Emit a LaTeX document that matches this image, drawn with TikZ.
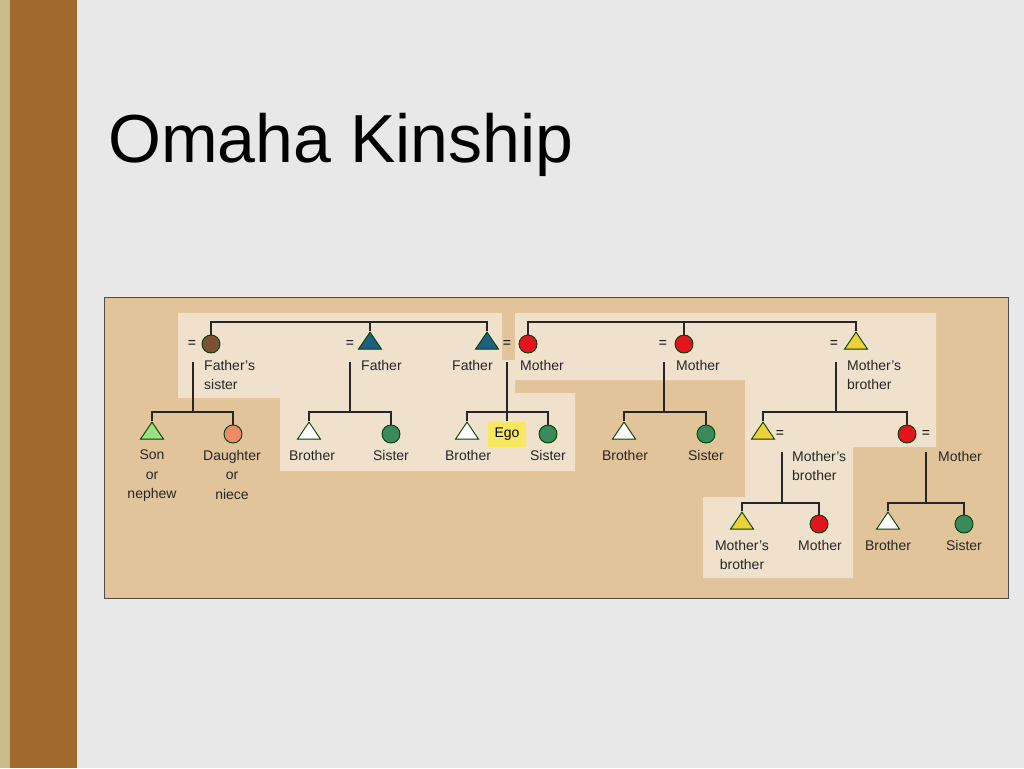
\documentclass[tikz,border=0pt]{standalone}
\usepackage{fontspec}
\setmainfont{Liberation Sans}
\usetikzlibrary{shapes.geometric}
\begin{document}
\begin{tikzpicture}[x=1pt,y=-1pt,
  lbl/.style={font=\fontsize{14}{19.5}\selectfont,text=black!85,inner sep=0pt,align=center},
  lbll/.style={lbl,align=left,anchor=north west},
  tri/.style={draw=black!75!green,line width=0.9pt,isosceles triangle,isosceles triangle apex angle=68,shape border rotate=90,minimum width=21pt,minimum height=17pt,inner sep=0pt},
  cir/.style={draw=black!75!green,line width=0.9pt,circle,minimum size=18pt,inner sep=0pt},
  ln/.style={line width=1.1pt,draw=black!85},
  eq/.style={font=\fontsize{14}{14}\selectfont,inner sep=0pt}]
\definecolor{bg}{HTML}{E8E8E8}
\definecolor{bar}{HTML}{A0692E}
\definecolor{strip}{HTML}{C9BC8C}
\definecolor{panel}{HTML}{E2C49B}
\definecolor{hl}{HTML}{F0E1CC}
\definecolor{teal}{HTML}{1F5F82}
\definecolor{brn}{HTML}{7B5234}
\definecolor{rd}{HTML}{E3141C}
\definecolor{yl}{HTML}{EDD03A}
\definecolor{gr}{HTML}{3A8A5C}
\definecolor{lg}{HTML}{9BE080}
\definecolor{sal}{HTML}{EE8A6A}
\definecolor{egoy}{HTML}{F7E860}
\useasboundingbox (0,0) rectangle (1024,768);
\fill[bg] (0,0) rectangle (1024,768);
\fill[strip] (0,0) rectangle (10,768);
\fill[bar] (10,0) rectangle (77,768);
\node[anchor=base west,inner sep=0pt,font=\fontsize{68}{68}\selectfont] (title) at (108,162) {Omaha Kinship};
\fill[panel,draw=black!70,line width=1pt] (104,297) rectangle (1008,598);
\fill[hl] (178,313)--(502,313)--(502,360)--(515,360)--(515,393)--(575,393)--(575,471)--(280,471)--(280,398)--(178,398)--cycle;
\fill[hl] (515,313)--(936,313)--(936,447)--(853,447)--(853,578)--(703,578)--(703,497)--(745,497)--(745,380)--(515,380)--cycle;
% top row
\node[cir,fill=brn] (fs) at (211,344) {};
\node[tri,fill=teal] (f1) at (370,343) {};
\node[tri,fill=teal] (f2) at (487,343) {};
\node[cir,fill=rd] (m1) at (528,344) {};
\node[cir,fill=rd] (m2) at (684,344) {};
\node[tri,fill=yl] (mb) at (856,343) {};
\node[eq] (e1) at (192,344) {=};
\node[eq] (e2) at (350,344) {=};
\node[eq] (e3) at (507,344) {=};
\node[eq] (e4) at (663,344) {=};
\node[eq] (e5) at (834,344) {=};
\coordinate (t1) at (211,322); \coordinate (t2) at (370,322); \coordinate (t3) at (487,322);
\coordinate (t4) at (528,322); \coordinate (t5) at (684,322); \coordinate (t6) at (856,322);
\draw[ln] (fs.north)--(t1)--(t3)--(f2.north); \draw[ln] (t2)--(f1.north);
\draw[ln] (m1.north)--(t4)--(t6)--(mb.north); \draw[ln] (t5)--(m2.north);
\node[lbll] (lfs) at (204,360) {Father's\\sister};
\node[lbll] (lf1) at (361,360) {Father};
\node[lbll] (lf2) at (452,360) {Father};
\node[lbll] (lm1) at (520,360) {Mother};
\node[lbll] (lm2) at (676,360) {Mother};
\node[lbll] (lmb) at (847,360) {Mother's\\brother};
% second row
\node[tri,fill=lg] (son) at (152,433) {};
\node[cir,fill=sal] (dau) at (233,434) {};
\node[tri,fill=white] (b1) at (309,433) {};
\node[cir,fill=gr] (s1) at (391,434) {};
\node[tri,fill=white] (b2) at (467,433) {};
\node[cir,fill=gr] (s2) at (548,434) {};
\node[fill=egoy,minimum width=38pt,minimum height=25pt,inner sep=0pt,font=\fontsize{14}{14}\selectfont] (ego) at (507,434) {Ego};
\node[tri,fill=white] (b3) at (624,433) {};
\node[cir,fill=gr] (s3) at (706,434) {};
\node[tri,fill=yl] (mb2) at (763,433) {};
\node[cir,fill=rd] (m3) at (907,434) {};
\node[eq] (e6) at (780,434) {=};
\node[eq] (e7) at (926,434) {=};
\foreach \x/\y in {193/fa,350/fb,507/fc,664/fd,836/fe}{\coordinate (v\y) at (\x,362); \coordinate (h\y) at (\x,412);}
\draw[ln] (vfa)--(hfa); \draw[ln] (son.north)|-(hfa)-|(dau.north);
\draw[ln] (vfb)--(hfb); \draw[ln] (b1.north)|-(hfb)-|(s1.north);
\draw[ln] (vfc)--(ego.north); \draw[ln] (b2.north)|-(hfc)-|(s2.north);
\draw[ln] (vfd)--(hfd); \draw[ln] (b3.north)|-(hfd)-|(s3.north);
\draw[ln] (vfe)--(hfe); \draw[ln] (mb2.north)|-(hfe)-|(m3.north);
\node[lbl,anchor=north] (lson) at (152,450) {Son\\or\\nephew};
\node[lbl,anchor=north] (ldau) at (232,450) {Daughter\\or\\niece};
\node[lbl,anchor=north] (lb1) at (312,450) {Brother};
\node[lbl,anchor=north] (ls1) at (391,450) {Sister};
\node[lbl,anchor=north] (lb2) at (468,450) {Brother};
\node[lbl,anchor=north] (ls2) at (548,450) {Sister};
\node[lbl,anchor=north] (lb3) at (625,450) {Brother};
\node[lbl,anchor=north] (ls3) at (706,450) {Sister};
\node[lbll] (lmb2) at (792,451) {Mother's\\brother};
\node[lbll] (lm3) at (938,451) {Mother};
% third row
\node[tri,fill=yl] (mb3) at (742,523) {};
\node[cir,fill=rd] (m4) at (819,524) {};
\node[tri,fill=white] (b4) at (888,523) {};
\node[cir,fill=gr] (s4) at (964,524) {};
\coordinate (vg) at (782,452); \coordinate (hg) at (782,503);
\coordinate (vh) at (926,452); \coordinate (hh) at (926,503);
\draw[ln] (vg)--(hg); \draw[ln] (mb3.north)|-(hg)-|(m4.north);
\draw[ln] (vh)--(hh); \draw[ln] (b4.north)|-(hh)-|(s4.north);
\node[lbl,anchor=north] (lmb3) at (742,540) {Mother's\\brother};
\node[lbl,anchor=north] (lm4) at (820,540) {Mother};
\node[lbl,anchor=north] (lb4) at (888,540) {Brother};
\node[lbl,anchor=north] (ls4) at (964,540) {Sister};
\end{tikzpicture}
\end{document}
